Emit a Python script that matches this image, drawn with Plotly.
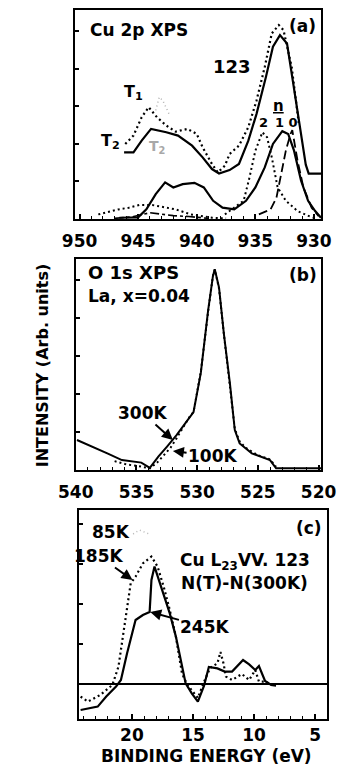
import plotly.graph_objects as go

W, H = 355, 768          # reference picture size (pixels)
OFF = 8                  # page body margin of the browser
FW, FH = W - OFF, H - OFF
FONT = "DejaVu Sans"

# ---------------- Panel (a): Cu 2p XPS ----------------
a_E_T2 = [946.2, 945.4, 944.7, 943.9, 942.6, 941.6, 940.4, 939.5, 938.7, 938.1, 937.2, 936.4,
          935.6, 934.9, 934.1, 933.5, 932.9, 932.3, 931.8, 931.15, 930.7, 930.45, 929.4]
a_I_T2 = [31.9, 31.9, 37.5, 43.1, 41.5, 39.9, 35.1, 29.5, 23.9, 21.8, 23.4, 26.3,
          37.5, 50.3, 67.9, 82.4, 88.0, 84.0, 66.0, 43.0, 26.0, 21.7, 21.7]

a_E_T1 = [946.1, 945.4, 944.7, 944.1, 943.4, 942.6, 941.8, 940.8, 940.0, 939.5, 938.7, 938.2,
          937.6, 937.2, 936.4, 935.6, 934.9, 934.2, 933.6, 933.0, 932.6, 931.9, 931.3]
a_I_T1 = [35.9, 39.9, 48.7, 53.5, 48.7, 44.7, 41.8, 43.1, 40.7, 34.3, 26.3, 22.3,
          25.5, 31.1, 35.1, 43.9, 56.7, 72.7, 88.8, 92.8, 90.4, 72.7, 46.0]

a_E_faint = [943.5, 943.2, 942.9, 942.3]
a_I_faint = [52.0, 58.3, 56.7, 49.5]

a_E_low = [946.6, 945.0, 944.3, 943.5, 942.7, 942.0, 941.2, 940.2, 939.4, 938.6, 937.8, 936.8,
           935.8, 935.0, 934.2, 933.5, 932.7, 932.2, 931.7, 931.1, 930.5, 929.9, 929.4]
a_I_low = [0.6, 0.8, 4.6, 11.9, 17.5, 15.1, 16.7, 17.3, 15.1, 8.7, 5.4, 4.6,
           8.7, 15.1, 24.7, 35.9, 42.0, 40.7, 32.7, 18.3, 8.7, 3.8, 0.6]

a_E_broad = [948.4, 946.7, 945.8, 944.9, 943.8, 941.8, 940.5, 938.7, 937.5]
a_I_broad = [2.2, 4.6, 5.4, 6.7, 6.7, 4.6, 2.2, 0.6, 0.3]

a_E_n2 = [937.6, 936.0, 935.5, 935.0, 934.4, 934.0, 933.6, 933.1, 932.4, 931.4, 930.1]
a_I_n2 = [2.2, 8.7, 19.9, 32.7, 41.5, 39.1, 29.5, 15.1, 8.7, 3.8, 0.6]

a_E_n10 = [934.7, 933.7, 933.2, 932.8, 932.4, 932.0, 931.85, 931.4, 930.9, 930.2, 929.6]
a_I_n10 = [2.2, 4.6, 10.2, 21.5, 32.7, 40.7, 42.5, 27.9, 15.1, 5.4, 1.4]

a_E_dd = [947.0, 945.5, 944.0, 943.2, 942.0, 940.7, 939.0]
a_I_dd = [0.3, 1.0, 3.0, 2.4, 1.6, 1.2, 0.3]

a_ticks = [950, 945, 940, 935, 930]

# ---------------- Panel (b): O 1s XPS ----------------
b_E_300 = [539.9, 538.6, 537.4, 536.2, 535.2, 534.6, 533.9, 533.2, 532.5, 531.7, 531.0, 530.3,
           529.7, 529.1, 528.7, 528.55, 528.2, 527.8, 527.3, 526.9, 526.5, 525.5, 524.0, 523.5, 519.8]
b_I_300 = [14.2, 11.0, 7.9, 4.7, 3.9, 3.5, 1.0, 6.3, 11.0, 16.5, 22.0, 27.5,
           46.0, 75.5, 92.0, 95.1, 86.5, 64.5, 40.9, 18.9, 12.6, 7.9, 4.7, 0.8, 0.8]

b_E_100 = [536.8, 535.8, 534.8, 533.9, 533.3, 532.7, 532.2, 531.7, 531.2, 530.6, 530.3,
           529.7, 529.1, 528.7, 528.55, 528.2, 527.8, 527.3, 526.9, 526.5, 526.0, 525.0, 524.0, 523.5]
b_I_100 = [4.2, 2.6, 1.8, 0.8, 3.5, 7.5, 10.5, 15.0, 20.0, 25.5, 27.5,
           46.5, 75.0, 92.0, 95.0, 86.0, 64.5, 41.0, 19.5, 13.5, 10.5, 7.0, 5.0, 1.5]

b_ticks = [540, 535, 530, 525, 520]

# ---------------- Panel (c): Cu L23VV difference ----------------
c_E_245 = [24.2, 22.8, 22.1, 21.3, 20.9, 20.4, 19.7, 19.1, 18.55, 18.4, 18.15, 17.4, 16.9, 16.4,
           15.9, 15.6, 15.1, 14.6, 14.1, 13.7, 13.0, 12.4, 11.8, 10.9, 10.4, 9.9, 9.6, 9.1, 8.6, 8.2]
c_I_245 = [-13.0, -11.3, -6.3, -1.3, 2.0, 15.3, 32.0, 34.5, 36.0, 52.0, 58.7, 45.3, 35.3, 23.7,
           8.7, 0.3, -4.7, -8.8, -1.0, 8.5, 7.8, 6.2, 6.2, 12.0, 9.8, 7.0, 9.0, 1.5, -0.5, -0.8]

c_E_185 = [24.2, 23.6, 22.6, 21.6, 21.1, 20.6, 20.1, 19.7, 19.1, 18.4, 17.9, 17.4, 16.9, 16.4,
           15.9, 15.5, 15.0, 14.6, 14.1, 13.6, 13.0, 12.75, 12.5, 12.3, 11.8, 11.0, 10.4, 9.9,
           9.6, 9.1, 8.5]
c_I_185 = [-6.3, -8.8, -5.5, -0.5, 8.7, 28.7, 50.3, 53.7, 60.3, 63.7, 58.7, 48.7, 37.0, 23.7,
           5.3, 0.0, -4.0, -7.0, 1.0, 8.0, 10.3, 16.0, 10.3, 3.7, 2.0, 5.0, 2.0, 7.0,
           1.2, 1.2, -0.5]

c_E_85 = [19.9, 19.4, 18.6]
c_I_85 = [75.0, 77.0, 75.0]

c_zero = 0.0
c_ticks = [20, 15, 10, 5]

# ---------------- layout geometry (reference pixels) ----------------
# panel boxes: (left, right, top, bottom) and axis ranges
BOX = {
    "":  ((62, 334, 10, 219), (950.4, 929.4), (0, 100)),
    "2": ((63, 334, 259, 470), (540, 519.8), (0, 100)),
    "3": ((67, 341, 510, 719), (24.3, 4.0), (-17.5, 87.0)),
}

def dom_x(k):
    l, r, t, b = BOX[k][0]
    return [(l - OFF) / FW, (r - OFF) / FW]

def dom_y(k):
    l, r, t, b = BOX[k][0]
    return [1 - (b - OFF) / FH, 1 - (t - OFF) / FH]

def to_px(k, xv, yv):
    (l, r, t, b), (x0, x1), (y0, y1) = BOX[k]
    return l + (xv - x0) / (x1 - x0) * (r - l), b - (yv - y0) / (y1 - y0) * (b - t)

def P(px, py):
    return (px - OFF) / FW, 1 - (py - OFF) / FH

fig = go.Figure()

def line(x, y, ax, dash="solid", width=2.2, color="black"):
    fig.add_trace(go.Scatter(x=x, y=y, xaxis="x" + ax, yaxis="y" + ax, mode="lines",
                             line=dict(color=color, width=width, dash=dash),
                             hoverinfo="skip", showlegend=False))

# panel a
line(a_E_broad, a_I_broad, "", dash="2px,3px", width=2)
line(a_E_dd, a_I_dd, "", dash="dashdot", width=1.6)
line(a_E_n2, a_I_n2, "", dash="2px,3px", width=2)
line(a_E_n10, a_I_n10, "", dash="9px,4px", width=1.8)
line(a_E_low, a_I_low, "", width=2.2)
line(a_E_T1, a_I_T1, "", dash="2px,3px", width=2.2)
line(a_E_faint, a_I_faint, "", dash="1px,3px", width=1.5, color="#b0b0b0")
line(a_E_T2, a_I_T2, "", width=2.2)

# panel b
line(b_E_100, b_I_100, "2", dash="2px,3px", width=2)
line(b_E_300, b_I_300, "2", width=2)

# panel c
line(c_E_185, c_I_185, "3", dash="2px,3px", width=2.2)
line(c_E_85, c_I_85, "3", dash="1px,3px", width=1.5, color="#b8b8b8")
line(c_E_245, c_I_245, "3", width=2.2)
fig.add_shape(type="line", xref="x3 domain", yref="y3", x0=0, x1=1, y0=c_zero, y1=c_zero,
              line=dict(color="black", width=1.8))

tickfont = dict(family=FONT, size=17, color="black", weight="bold")

def xax(k, ticks, standoff):
    return dict(domain=dom_x(k), anchor="y" + k, range=list(BOX[k][1]), tickvals=ticks,
                ticktext=[str(t) for t in ticks],
                showline=True, mirror=True, linewidth=2, linecolor="black",
                ticks="inside", ticklen=5, tickwidth=1.5, tickcolor="black",
                minor=dict(ticks="inside", dtick=1, ticklen=3, tickwidth=1.3, tickcolor="black"),
                ticklabelstandoff=standoff,
                tickfont=tickfont, showgrid=False, zeroline=False, fixedrange=True)

def yax(k, dtick):
    return dict(domain=dom_y(k), anchor="x" + k, range=list(BOX[k][2]), showticklabels=False,
                showline=True, mirror=True, linewidth=2, linecolor="black",
                ticks="inside", ticklen=4, tickwidth=1.5, tickcolor="black", dtick=dtick, tick0=0,
                showgrid=False, zeroline=False, fixedrange=True)

fig.update_layout(
    width=FW, height=FH, autosize=False,
    margin=dict(l=0, r=0, t=0, b=0, pad=0),
    paper_bgcolor="white", plot_bgcolor="white",
    xaxis=xax("", a_ticks, 6), yaxis=yax("", 18),
    xaxis2=xax("2", b_ticks, 6), yaxis2=yax("2", 18),
    xaxis3=xax("3", c_ticks, 0), yaxis3=yax("3", 20),
)

ann = []

def txt(text, px, py, size=17, xanchor="center", color="black"):
    x, y = P(px, py)
    ann.append(dict(text=text, x=x, y=y, xref="paper", yref="paper", xanchor=xanchor, yanchor="middle",
                    showarrow=False, font=dict(family=FONT, size=size, color=color, weight="bold")))

def label_arrow(text, k, xv, yv, tpx, tpy, size=17):
    # text centred at reference pixel (tpx, tpy), arrow pointing to data point (xv, yv)
    hx, hy = to_px(k, xv, yv)
    ann.append(dict(text=text, x=xv, y=yv, xref="x" + k, yref="y" + k,
                    ax=tpx - hx, ay=tpy - hy, showarrow=True, standoff=0,
                    arrowhead=2, arrowsize=1.1, arrowwidth=2, arrowcolor="black",
                    font=dict(family=FONT, size=size, color="black", weight="bold")))

# panel a texts
txt("Cu 2p XPS", 76, 30, size=17, xanchor="left")
txt("(a)", 331, 26, size=17, xanchor="right")
txt("123", 236, 66, size=18)
txt("T<sub>1</sub>", 127, 92, size=16)
txt("T<sub>2</sub>", 101, 141, size=16)
txt("T<sub>2</sub>", 153, 147, size=14, color="#a8a8a8")
txt("<u>n</u>", 287, 106, size=15)
txt("2", 271, 123, size=13)
txt("1 0", 296, 123, size=13)

# panel b texts
txt("O 1s XPS", 74, 273, size=18, xanchor="left")
txt("La, x=0.04", 74, 296, size=17, xanchor="left")
txt("(b)", 332, 275, size=17, xanchor="right")
label_arrow("300K", "2", 532.0, 14.2, 140, 413)
label_arrow("100K", "2", 532.0, 9.0, 210, 456)

# panel c texts
txt("85K", 102, 532, size=17)
label_arrow("185K", "3", 19.95, 52.0, 92, 556)
txt("Cu L<sub>23</sub>VV. 123", 250, 561, size=17)
txt("N(T)-N(300K)", 250, 583, size=17)
label_arrow("245K", "3", 18.5, 36.0, 200, 627)
txt("(c)", 337, 528, size=17, xanchor="right")

# axis titles
tx, ty = P(26, 365)
ann.append(dict(text="INTENSITY (Arb. units)", x=tx, y=ty, xref="paper", yref="paper", textangle=-90,
                xanchor="center", yanchor="middle", showarrow=False,
                font=dict(family=FONT, size=16, color="black", weight="bold")))
txt("BINDING ENERGY (eV)", 207, 756, size=17)

fig.update_layout(annotations=ann)
fig.write_html("out.html")
